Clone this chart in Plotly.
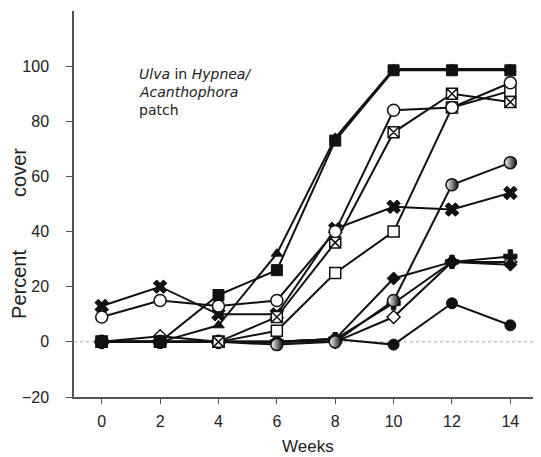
import plotly.graph_objects as go

weeks = [0, 2, 4, 6, 8, 10, 12, 14]

triangle = [0, 0, 6, 32, 74, 99, 99, 99]
filled_square = [0, 0, 17, 26, 73, 98.5, 98.5, 98.5]
x_cross = [13, 20, 10, 10, 41, 49, 48, 54]
hatched_square = [0, 0, 0, 9, 36, 76, 90, 87]
open_square = [0, 0, 0, 4, 25, 40, 85, 91]
half_circle = [0, 0, 0, -1, 0, 15, 57, 65]
filled_diamond = [0, 0, 0, 0, 1, 23, 29, 28]
plus_cross = [0, 0, 0, 0, 1, 14, 29, 31]
open_diamond = [0, 2, 0, 0, 0, 9, 29, 29]
filled_circle = [0, 0, 0, 0, 1, -1, 14, 6]
open_circle = [9, 15, 13, 15, 40, 84, 85, 94]

y_ticks = [-20, 0, 20, 40, 60, 80, 100]
x_ticks = [0, 2, 4, 6, 8, 10, 12, 14]

INK = "#111111"
FONT = "Liberation Sans"
NOTE_FONT = dict(family="DejaVu Sans", size=14, color="#222222")

series = [
    (triangle, dict(symbol="triangle-up", size=10, color=INK, line=dict(color=INK, width=1))),
    (filled_circle, dict(symbol="circle", size=11, color=INK, line=dict(color=INK, width=1))),
    (open_diamond, dict(symbol="diamond", size=10, color="white", line=dict(color=INK, width=1.5))),
    (plus_cross, dict(symbol="cross", size=11, color=INK, line=dict(color=INK, width=1))),
    (filled_diamond, dict(symbol="diamond", size=10, color=INK, line=dict(color=INK, width=1))),
    (half_circle, dict(symbol="circle", size=12, color="white",
                       gradient=dict(type="horizontal", color=INK),
                       line=dict(color=INK, width=1.5))),
    (x_cross, dict(symbol="x", size=12, color=INK, line=dict(color=INK, width=1))),
    (open_square, dict(symbol="square", size=11, color="white", line=dict(color=INK, width=1.5))),
    (hatched_square, dict(symbol="square-x", size=11, color="white", line=dict(color=INK, width=1.5))),
    (open_circle, dict(symbol="circle", size=12, color="white", line=dict(color=INK, width=1.5))),
    (filled_square, dict(symbol="square", size=11, color=INK, line=dict(color=INK, width=1))),
]

fig = go.Figure()
for vals, mk in series:
    fig.add_trace(go.Scatter(
        x=weeks, y=vals, mode="lines+markers",
        line=dict(color=INK, width=2),
        marker=mk, showlegend=False, cliponaxis=False,
    ))

fig.add_shape(type="line", xref="paper", x0=0, x1=1, yref="y", y0=0, y1=0,
              line=dict(color="#aaaaaa", width=1, dash="dot"), layer="below")

fig.update_layout(
    width=533, height=449,
    margin=dict(l=66, r=0, t=3, b=60),
    paper_bgcolor="white", plot_bgcolor="white",
    font=dict(family=FONT, size=15, color="#222222"),
    xaxis=dict(range=[-0.95, 15.05], tickvals=x_ticks, ticks="outside", ticklen=5,
               tickcolor="#555555", showline=True, linecolor="#555555", linewidth=1.5,
               showgrid=False, zeroline=False, ticklabelstandoff=4,
               tickfont=dict(family=FONT, size=16, color="#222222")),
    yaxis=dict(range=[-20, 120], tickvals=y_ticks, ticks="outside", ticklen=6,
               tickcolor="#555555", showline=True, linecolor="#555555", linewidth=1.5,
               showgrid=False, zeroline=False, ticklabelstandoff=14,
               tickfont=dict(family=FONT, size=16, color="#222222")),
    annotations=[
        dict(x=1.2, y=97.1, xref="x", yref="y", xanchor="left", yanchor="middle",
             text="<i>Ulva</i> in <i>Hypnea/</i>", showarrow=False, font=NOTE_FONT),
        dict(x=1.2, y=90.6, xref="x", yref="y", xanchor="left", yanchor="middle",
             text="<i>Acanthophora</i>", showarrow=False, font=NOTE_FONT),
        dict(x=1.2, y=84.0, xref="x", yref="y", xanchor="left", yanchor="middle",
             text="patch", showarrow=False, font=NOTE_FONT),
        dict(x=0.5, y=-0.127, xref="paper", yref="paper", xanchor="center", yanchor="middle",
             text="Weeks", showarrow=False, font=dict(family=FONT, size=17, color="#222222")),
        dict(x=-0.118, y=(397 - 284) / 386, xref="paper", yref="paper",
             xanchor="center", yanchor="middle", textangle=-90,
             text="Percent", showarrow=False, font=dict(family=FONT, size=20, color="#222222")),
        dict(x=-0.118, y=(397 - 172) / 386, xref="paper", yref="paper",
             xanchor="center", yanchor="middle", textangle=-90,
             text="cover", showarrow=False, font=dict(family=FONT, size=20, color="#222222")),
    ],
)

fig.write_html("out.html")
